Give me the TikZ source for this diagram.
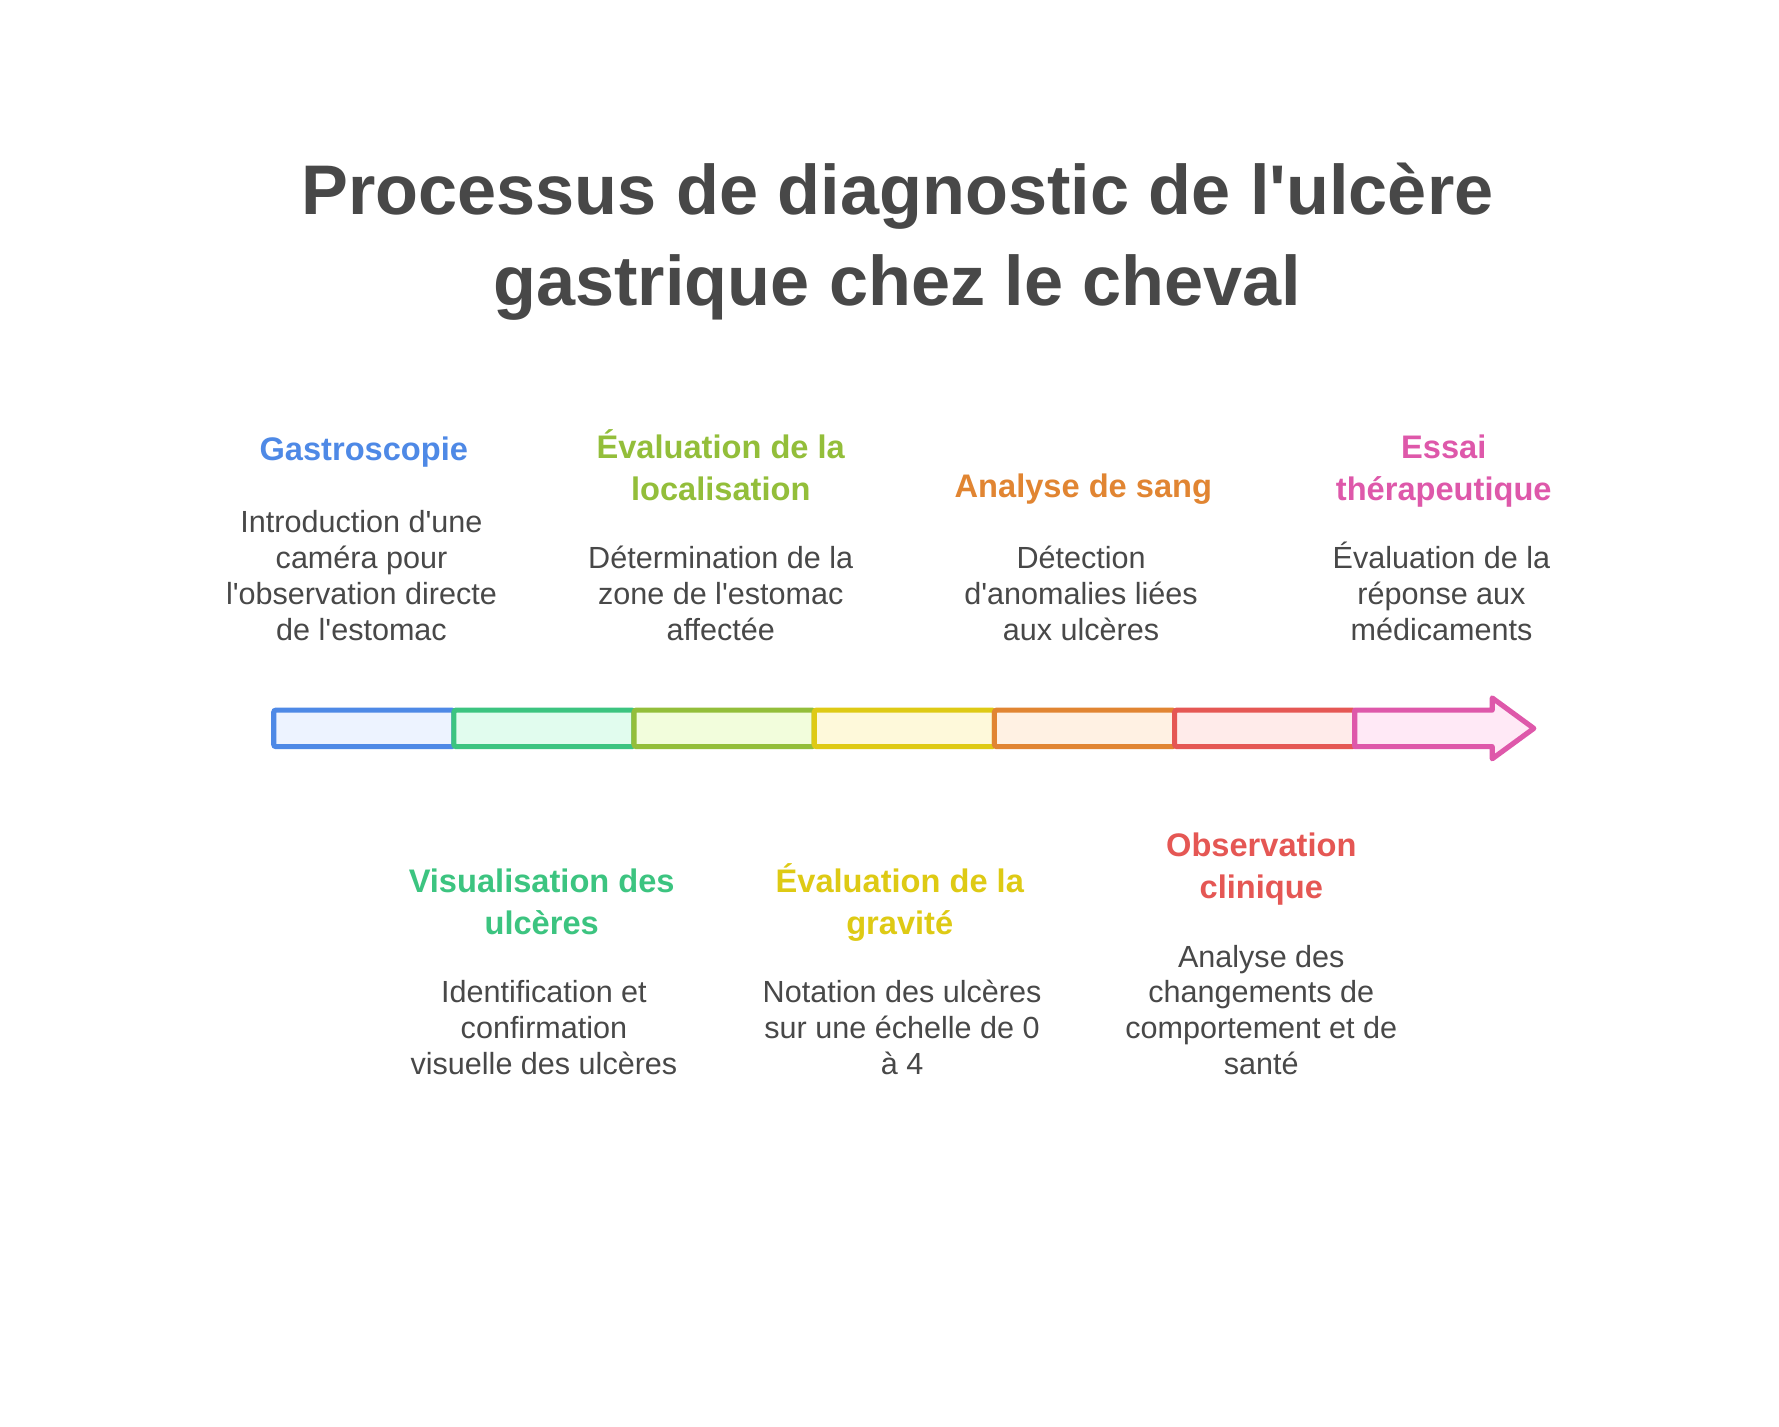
\documentclass[tikz,border=0pt]{standalone}
\usepackage{fontspec}
\setmainfont{Liberation Sans}[Ligatures=TeXOff]
\usepackage{tikz}
\usepackage{xcolor}
\definecolor{textgray}{RGB}{72,72,72}
\definecolor{gastro}{RGB}{78,137,230}
\definecolor{gastrofill}{RGB}{237,243,255}
\definecolor{visu}{RGB}{60,196,128}
\definecolor{visufill}{RGB}{225,252,238}
\definecolor{local}{RGB}{147,190,58}
\definecolor{localfill}{RGB}{242,253,220}
\definecolor{gravite}{RGB}{222,202,20}
\definecolor{gravitefill}{RGB}{254,249,218}
\definecolor{sang}{RGB}{225,133,50}
\definecolor{sangfill}{RGB}{255,241,227}
\definecolor{clinique}{RGB}{229,87,84}
\definecolor{cliniquefill}{RGB}{255,235,234}
\definecolor{essai}{RGB}{222,88,170}
\definecolor{essaifill}{RGB}{255,233,246}

\begin{document}
\begin{tikzpicture}
[
    x=1pt,y=-1pt,
    segment/.style={rectangle,rounded corners=2pt,line width=4.5pt,minimum width=158pt,minimum height=32pt,inner sep=0pt},
    titre/.style={align=center,anchor=base,inner sep=0pt,text=textgray,font=\fontsize{61.6}{79}\selectfont\bfseries},
    etape/.style={align=center,anchor=base,inner sep=0pt,font=\fontsize{28.6}{36.5}\selectfont\bfseries},
    detail/.style={align=center,anchor=base,inner sep=0pt,text=textgray,font=\fontsize{26.8}{31.5}\selectfont}
]
\fill[white] (0,0) rectangle (1560,1251.3);

\node (titre) at (787,267.5) [titre] {Processus de diagnostic de l'ulcère\\gastrique chez le cheval};

\node (s-gastro) at (319,638.7) [segment,draw=gastro,fill=gastrofill] {};
\node (s-visu) at (477,638.7) [segment,draw=visu,fill=visufill] {};
\node (s-local) at (635,638.7) [segment,draw=local,fill=localfill] {};
\node (s-gravite) at (793,638.7) [segment,draw=gravite,fill=gravitefill] {};
\node (s-sang) at (951,638.7) [segment,draw=sang,fill=sangfill] {};
\node (s-clinique) at (1109,638.7) [segment,draw=clinique,fill=cliniquefill] {};
\draw[line width=4.5pt,line join=round,draw=essai,fill=essaifill] (1188,622.7) -- (1308.5,622.7) -- (1308.5,612) -- (1345,638.7) -- (1308.5,665.4) -- (1308.5,654.7) -- (1188,654.7) -- cycle;

\node (t-gastro) at (319,404) [etape,text=gastro] {Gastroscopie};
\node (d-gastro) at (317,561.5) [detail] {Introduction d'une\\caméra pour\\l'observation directe\\de l'estomac};

\node (t-local) at (632,438.5) [etape,text=local] {Évaluation de la\\localisation};
\node (d-local) at (632,561.5) [detail] {Détermination de la\\zone de l'estomac\\affectée};

\node (t-sang) at (950,436) [etape,text=sang] {Analyse de sang};
\node (d-sang) at (948,561.5) [detail] {Détection\\d'anomalies liées\\aux ulcères};

\node (t-essai) at (1266,438.5) [etape,text=essai] {Essai\\thérapeutique};
\node (d-essai) at (1264,561.5) [detail] {Évaluation de la\\réponse aux\\médicaments};

\node (t-visu) at (475,819.5) [etape,text=visu] {Visualisation des\\ulcères};
\node (d-visu) at (477,942.5) [detail] {Identification et\\confirmation\\visuelle des ulcères};

\node (t-gravite) at (789,819.5) [etape,text=gravite] {Évaluation de la\\gravité};
\node (d-gravite) at (791,942.5) [detail] {Notation des ulcères\\sur une échelle de 0\\à 4};

\node (t-clinique) at (1106,787.5) [etape,text=clinique] {Observation\\clinique};
\node (d-clinique) at (1106,942.5) [detail] {Analyse des\\changements de\\comportement et de\\santé};

\end{tikzpicture}
\end{document}
